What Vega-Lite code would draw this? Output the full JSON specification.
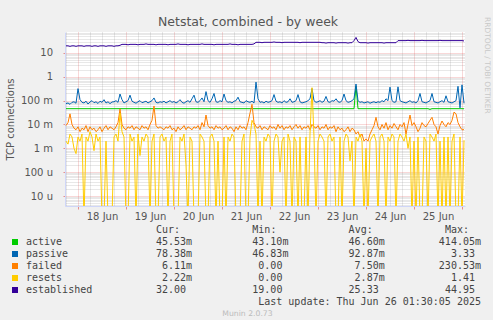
{
  "$schema": "https://vega.github.io/schema/vega-lite/v6.json",
  "background": "#F0F0F0",
  "padding": {"left": 5, "top": 15, "right": 2, "bottom": 2},
  "title": {"text": "Netstat, combined - by week", "font": "DejaVu Sans", "fontSize": 12.5, "fontWeight": "normal", "color": "#555555", "anchor": "middle", "offset": -11},
  "config": {"view": {"stroke": null}},
  "bounds": "flush",
  "spacing": 18,
  "vconcat": [
    {
      "width": 400,
      "height": 174,
      "view": {"fill": "#FFFFFF", "stroke": null},
      "title": {"text": "RRDTOOL / TOBI OETIKER", "orient": "right", "anchor": "start", "font": "DejaVu Sans", "fontSize": 7.5, "fontWeight": "normal", "color": "#C8C8C8", "offset": -3, "dx": -15},
      "data": {"values": [
        {"t":"2025-06-17T18:00","active":0.046,"passive":0.075,"failed":0.009,"resets":0.002,"established":20},
        {"t":"2025-06-17T19:00","active":0.046,"passive":0.08,"failed":0.012,"resets":0.0015,"established":20},
        {"t":"2025-06-17T20:00","active":0.046,"passive":0.07,"failed":0.028,"resets":0.004,"established":19},
        {"t":"2025-06-17T21:00","active":0.046,"passive":0.085,"failed":0.01,"resets":0.003,"established":20},
        {"t":"2025-06-17T22:00","active":0.046,"passive":0.09,"failed":0.007,"resets":0.001,"established":20},
        {"t":"2025-06-17T23:00","active":0.046,"passive":0.078,"failed":0.006,"resets":0.0006,"established":19},
        {"t":"2025-06-18T00:00","active":0.046,"passive":0.32,"failed":0.008,"resets":0.003,"established":20},
        {"t":"2025-06-18T01:00","active":0.046,"passive":0.11,"failed":0.005,"resets":0.002,"established":20},
        {"t":"2025-06-18T02:00","active":0.046,"passive":0.085,"failed":0.007,"resets":0.004,"established":20},
        {"t":"2025-06-18T03:00","active":0.046,"passive":0.08,"failed":0.006,"resets":1e-6,"established":19},
        {"t":"2025-06-18T04:00","active":0.046,"passive":0.095,"failed":0.009,"resets":0.003,"established":20},
        {"t":"2025-06-18T05:00","active":0.046,"passive":0.072,"failed":0.005,"resets":0.002,"established":20},
        {"t":"2025-06-18T06:00","active":0.046,"passive":0.088,"failed":0.008,"resets":0.005,"established":20},
        {"t":"2025-06-18T07:00","active":0.046,"passive":0.1,"failed":0.006,"resets":0.003,"established":19},
        {"t":"2025-06-18T08:00","active":0.046,"passive":0.082,"failed":0.007,"resets":0.0008,"established":20},
        {"t":"2025-06-18T09:00","active":0.046,"passive":0.09,"failed":0.005,"resets":0.004,"established":20},
        {"t":"2025-06-18T10:00","active":0.046,"passive":0.076,"failed":0.006,"resets":0.002,"established":19},
        {"t":"2025-06-18T11:00","active":0.046,"passive":0.095,"failed":0.008,"resets":0.003,"established":20},
        {"t":"2025-06-18T12:00","active":0.046,"passive":0.085,"failed":0.005,"resets":1e-6,"established":20},
        {"t":"2025-06-18T13:00","active":0.046,"passive":0.11,"failed":0.007,"resets":1e-6,"established":20},
        {"t":"2025-06-18T14:00","active":0.046,"passive":0.08,"failed":0.009,"resets":0.002,"established":19},
        {"t":"2025-06-18T15:00","active":0.046,"passive":0.09,"failed":0.006,"resets":1e-6,"established":20},
        {"t":"2025-06-18T16:00","active":0.046,"passive":0.075,"failed":0.008,"resets":1e-6,"established":20},
        {"t":"2025-06-18T17:00","active":0.046,"passive":0.088,"failed":0.007,"resets":1e-6,"established":20},
        {"t":"2025-06-18T18:00","active":0.046,"passive":0.09,"failed":0.006,"resets":0.003,"established":19},
        {"t":"2025-06-18T19:00","active":0.046,"passive":0.1,"failed":0.008,"resets":0.004,"established":20},
        {"t":"2025-06-18T20:00","active":0.046,"passive":0.085,"failed":0.012,"resets":0.002,"established":20},
        {"t":"2025-06-18T21:00","active":0.046,"passive":0.19,"failed":0.045,"resets":0.03,"established":21},
        {"t":"2025-06-18T22:00","active":0.046,"passive":0.11,"failed":0.01,"resets":0.005,"established":23},
        {"t":"2025-06-18T23:00","active":0.046,"passive":0.08,"failed":0.007,"resets":0.003,"established":23},
        {"t":"2025-06-19T00:00","active":0.046,"passive":0.09,"failed":0.006,"resets":1e-6,"established":23},
        {"t":"2025-06-19T01:00","active":0.046,"passive":0.1,"failed":0.008,"resets":1e-6,"established":22},
        {"t":"2025-06-19T02:00","active":0.046,"passive":0.17,"failed":0.007,"resets":0.004,"established":23},
        {"t":"2025-06-19T03:00","active":0.046,"passive":0.095,"failed":0.009,"resets":0.002,"established":23},
        {"t":"2025-06-19T04:00","active":0.046,"passive":0.085,"failed":0.006,"resets":0.003,"established":23},
        {"t":"2025-06-19T05:00","active":0.046,"passive":0.078,"failed":0.008,"resets":1e-6,"established":23},
        {"t":"2025-06-19T06:00","active":0.046,"passive":0.09,"failed":0.007,"resets":0.004,"established":22},
        {"t":"2025-06-19T07:00","active":0.046,"passive":0.1,"failed":0.006,"resets":0.0005,"established":23},
        {"t":"2025-06-19T08:00","active":0.046,"passive":0.082,"failed":0.009,"resets":0.003,"established":23},
        {"t":"2025-06-19T09:00","active":0.046,"passive":0.088,"failed":0.007,"resets":0.002,"established":23},
        {"t":"2025-06-19T10:00","active":0.046,"passive":0.095,"failed":0.008,"resets":0.004,"established":24},
        {"t":"2025-06-19T11:00","active":0.046,"passive":0.08,"failed":0.006,"resets":0.003,"established":23},
        {"t":"2025-06-19T12:00","active":0.046,"passive":0.09,"failed":0.01,"resets":1e-6,"established":23},
        {"t":"2025-06-19T13:00","active":0.046,"passive":0.1,"failed":0.015,"resets":0.002,"established":23},
        {"t":"2025-06-19T14:00","active":0.046,"passive":0.13,"failed":0.06,"resets":0.004,"established":23},
        {"t":"2025-06-19T15:00","active":0.046,"passive":0.085,"failed":0.009,"resets":1e-6,"established":22},
        {"t":"2025-06-19T16:00","active":0.046,"passive":0.08,"failed":0.007,"resets":1e-6,"established":23},
        {"t":"2025-06-19T17:00","active":0.046,"passive":0.09,"failed":0.008,"resets":0.003,"established":23},
        {"t":"2025-06-19T18:00","active":0.046,"passive":0.085,"failed":0.007,"resets":0.004,"established":23},
        {"t":"2025-06-19T19:00","active":0.046,"passive":0.095,"failed":0.006,"resets":0.002,"established":23},
        {"t":"2025-06-19T20:00","active":0.046,"passive":0.08,"failed":0.008,"resets":0.003,"established":23},
        {"t":"2025-06-19T21:00","active":0.046,"passive":0.09,"failed":0.007,"resets":1e-6,"established":22},
        {"t":"2025-06-19T22:00","active":0.046,"passive":0.1,"failed":0.009,"resets":0.002,"established":23},
        {"t":"2025-06-19T23:00","active":0.046,"passive":0.085,"failed":0.006,"resets":0.004,"established":23},
        {"t":"2025-06-20T00:00","active":0.046,"passive":0.092,"failed":0.007,"resets":1e-6,"established":23},
        {"t":"2025-06-20T01:00","active":0.046,"passive":0.08,"failed":0.005,"resets":1e-6,"established":23},
        {"t":"2025-06-20T02:00","active":0.046,"passive":0.09,"failed":0.008,"resets":1e-6,"established":24},
        {"t":"2025-06-20T03:00","active":0.046,"passive":0.11,"failed":0.006,"resets":0.003,"established":23},
        {"t":"2025-06-20T04:00","active":0.046,"passive":0.085,"failed":0.007,"resets":0.002,"established":23},
        {"t":"2025-06-20T05:00","active":0.046,"passive":0.078,"failed":0.009,"resets":0.004,"established":23},
        {"t":"2025-06-20T06:00","active":0.046,"passive":0.09,"failed":0.006,"resets":0.0002,"established":23},
        {"t":"2025-06-20T07:00","active":0.046,"passive":0.1,"failed":0.008,"resets":1e-6,"established":22},
        {"t":"2025-06-20T08:00","active":0.046,"passive":0.085,"failed":0.007,"resets":0.003,"established":23},
        {"t":"2025-06-20T09:00","active":0.046,"passive":0.12,"failed":0.006,"resets":0.002,"established":23},
        {"t":"2025-06-20T10:00","active":0.046,"passive":0.17,"failed":0.008,"resets":1e-6,"established":23},
        {"t":"2025-06-20T11:00","active":0.046,"passive":0.09,"failed":0.007,"resets":1e-6,"established":23},
        {"t":"2025-06-20T12:00","active":0.046,"passive":0.085,"failed":0.009,"resets":1e-6,"established":23},
        {"t":"2025-06-20T13:00","active":0.046,"passive":0.1,"failed":0.006,"resets":0.004,"established":23},
        {"t":"2025-06-20T14:00","active":0.046,"passive":0.13,"failed":0.012,"resets":0.003,"established":24},
        {"t":"2025-06-20T15:00","active":0.046,"passive":0.09,"failed":0.008,"resets":0.002,"established":23},
        {"t":"2025-06-20T16:00","active":0.046,"passive":0.24,"failed":0.025,"resets":1e-6,"established":23},
        {"t":"2025-06-20T17:00","active":0.046,"passive":0.1,"failed":0.009,"resets":1e-6,"established":23},
        {"t":"2025-06-20T18:00","active":0.046,"passive":0.085,"failed":0.007,"resets":0.003,"established":23},
        {"t":"2025-06-20T19:00","active":0.046,"passive":0.12,"failed":0.008,"resets":0.004,"established":23},
        {"t":"2025-06-20T20:00","active":0.046,"passive":0.2,"failed":0.006,"resets":0.002,"established":22},
        {"t":"2025-06-20T21:00","active":0.046,"passive":0.09,"failed":0.009,"resets":1e-6,"established":23},
        {"t":"2025-06-20T22:00","active":0.046,"passive":0.085,"failed":0.007,"resets":0.002,"established":23},
        {"t":"2025-06-20T23:00","active":0.046,"passive":0.1,"failed":0.008,"resets":1e-6,"established":23},
        {"t":"2025-06-21T00:00","active":0.046,"passive":0.09,"failed":0.006,"resets":1e-6,"established":23},
        {"t":"2025-06-21T01:00","active":0.046,"passive":0.19,"failed":0.007,"resets":0.003,"established":23},
        {"t":"2025-06-21T02:00","active":0.046,"passive":0.1,"failed":0.009,"resets":1e-6,"established":23},
        {"t":"2025-06-21T03:00","active":0.046,"passive":0.085,"failed":0.006,"resets":0.003,"established":23},
        {"t":"2025-06-21T04:00","active":0.046,"passive":0.09,"failed":0.008,"resets":0.002,"established":24},
        {"t":"2025-06-21T05:00","active":0.046,"passive":0.08,"failed":0.007,"resets":0.004,"established":23},
        {"t":"2025-06-21T06:00","active":0.046,"passive":0.095,"failed":0.005,"resets":0.003,"established":23},
        {"t":"2025-06-21T07:00","active":0.046,"passive":0.1,"failed":0.008,"resets":1e-6,"established":23},
        {"t":"2025-06-21T08:00","active":0.046,"passive":0.14,"failed":0.006,"resets":1e-6,"established":22},
        {"t":"2025-06-21T09:00","active":0.046,"passive":0.09,"failed":0.009,"resets":1e-6,"established":23},
        {"t":"2025-06-21T10:00","active":0.046,"passive":0.085,"failed":0.007,"resets":0.002,"established":23},
        {"t":"2025-06-21T11:00","active":0.046,"passive":0.08,"failed":0.008,"resets":0.004,"established":23},
        {"t":"2025-06-21T12:00","active":0.046,"passive":0.1,"failed":0.006,"resets":1e-6,"established":23},
        {"t":"2025-06-21T13:00","active":0.046,"passive":0.09,"failed":0.012,"resets":1e-6,"established":23},
        {"t":"2025-06-21T14:00","active":0.046,"passive":0.085,"failed":0.03,"resets":0.003,"established":23},
        {"t":"2025-06-21T15:00","active":0.046,"passive":0.095,"failed":0.07,"resets":0.015,"established":23},
        {"t":"2025-06-21T16:00","active":0.046,"passive":0.08,"failed":0.012,"resets":0.01,"established":24},
        {"t":"2025-06-21T17:00","active":0.046,"passive":0.6,"failed":0.008,"resets":0.004,"established":28},
        {"t":"2025-06-21T18:00","active":0.046,"passive":0.12,"failed":0.007,"resets":1e-6,"established":28},
        {"t":"2025-06-21T19:00","active":0.046,"passive":0.085,"failed":0.009,"resets":0.002,"established":28},
        {"t":"2025-06-21T20:00","active":0.046,"passive":0.09,"failed":0.006,"resets":1e-6,"established":27},
        {"t":"2025-06-21T21:00","active":0.046,"passive":0.08,"failed":0.008,"resets":0.003,"established":28},
        {"t":"2025-06-21T22:00","active":0.046,"passive":0.095,"failed":0.007,"resets":0.002,"established":28},
        {"t":"2025-06-21T23:00","active":0.046,"passive":0.085,"failed":0.006,"resets":0.004,"established":28},
        {"t":"2025-06-22T00:00","active":0.046,"passive":0.09,"failed":0.009,"resets":0.003,"established":28},
        {"t":"2025-06-22T01:00","active":0.046,"passive":0.1,"failed":0.007,"resets":1e-6,"established":28},
        {"t":"2025-06-22T02:00","active":0.046,"passive":0.18,"failed":0.008,"resets":0.002,"established":29},
        {"t":"2025-06-22T03:00","active":0.046,"passive":0.095,"failed":0.006,"resets":0.004,"established":28},
        {"t":"2025-06-22T04:00","active":0.046,"passive":0.085,"failed":0.01,"resets":0.003,"established":28},
        {"t":"2025-06-22T05:00","active":0.046,"passive":0.09,"failed":0.007,"resets":0.0001,"established":28},
        {"t":"2025-06-22T06:00","active":0.046,"passive":0.08,"failed":0.009,"resets":0.002,"established":27},
        {"t":"2025-06-22T07:00","active":0.046,"passive":0.1,"failed":0.006,"resets":0.003,"established":28},
        {"t":"2025-06-22T08:00","active":0.046,"passive":0.085,"failed":0.008,"resets":1e-6,"established":28},
        {"t":"2025-06-22T09:00","active":0.046,"passive":0.09,"failed":0.007,"resets":0.004,"established":28},
        {"t":"2025-06-22T10:00","active":0.046,"passive":0.12,"failed":0.009,"resets":0.002,"established":28},
        {"t":"2025-06-22T11:00","active":0.046,"passive":0.085,"failed":0.006,"resets":1e-6,"established":28},
        {"t":"2025-06-22T12:00","active":0.046,"passive":0.09,"failed":0.008,"resets":0.003,"established":28},
        {"t":"2025-06-22T13:00","active":0.046,"passive":0.1,"failed":0.01,"resets":0.002,"established":28},
        {"t":"2025-06-22T14:00","active":0.046,"passive":0.18,"failed":0.007,"resets":1e-6,"established":28},
        {"t":"2025-06-22T15:00","active":0.046,"passive":0.09,"failed":0.009,"resets":0.003,"established":27},
        {"t":"2025-06-22T16:00","active":0.046,"passive":0.08,"failed":0.006,"resets":1e-6,"established":28},
        {"t":"2025-06-22T17:00","active":0.046,"passive":0.085,"failed":0.008,"resets":1e-6,"established":28},
        {"t":"2025-06-22T18:00","active":0.046,"passive":0.09,"failed":0.007,"resets":0.003,"established":28},
        {"t":"2025-06-22T19:00","active":0.046,"passive":0.1,"failed":0.009,"resets":1e-6,"established":28},
        {"t":"2025-06-22T20:00","active":0.046,"passive":0.12,"failed":0.006,"resets":0.004,"established":28},
        {"t":"2025-06-22T21:00","active":0.046,"passive":0.32,"failed":0.01,"resets":0.35,"established":28},
        {"t":"2025-06-22T22:00","active":0.046,"passive":0.1,"failed":0.008,"resets":0.003,"established":28},
        {"t":"2025-06-22T23:00","active":0.046,"passive":0.085,"failed":0.007,"resets":1e-6,"established":28},
        {"t":"2025-06-23T00:00","active":0.046,"passive":0.09,"failed":0.009,"resets":0.002,"established":28},
        {"t":"2025-06-23T01:00","active":0.046,"passive":0.1,"failed":0.006,"resets":0.004,"established":28},
        {"t":"2025-06-23T02:00","active":0.046,"passive":0.085,"failed":0.008,"resets":0.003,"established":27},
        {"t":"2025-06-23T03:00","active":0.046,"passive":0.095,"failed":0.007,"resets":0.002,"established":27},
        {"t":"2025-06-23T04:00","active":0.046,"passive":0.15,"failed":0.01,"resets":1e-6,"established":26},
        {"t":"2025-06-23T05:00","active":0.046,"passive":0.09,"failed":0.006,"resets":0.003,"established":27},
        {"t":"2025-06-23T06:00","active":0.046,"passive":0.085,"failed":0.008,"resets":0.004,"established":27},
        {"t":"2025-06-23T07:00","active":0.046,"passive":0.1,"failed":0.007,"resets":0.002,"established":27},
        {"t":"2025-06-23T08:00","active":0.046,"passive":0.095,"failed":0.009,"resets":0.003,"established":27},
        {"t":"2025-06-23T09:00","active":0.046,"passive":0.12,"failed":0.005,"resets":1e-6,"established":26},
        {"t":"2025-06-23T10:00","active":0.046,"passive":0.09,"failed":0.008,"resets":1e-6,"established":27},
        {"t":"2025-06-23T11:00","active":0.046,"passive":0.085,"failed":0.006,"resets":0.003,"established":27},
        {"t":"2025-06-23T12:00","active":0.046,"passive":0.1,"failed":0.007,"resets":1e-6,"established":27},
        {"t":"2025-06-23T13:00","active":0.046,"passive":0.19,"failed":0.005,"resets":0.002,"established":27},
        {"t":"2025-06-23T14:00","active":0.046,"passive":0.1,"failed":0.006,"resets":0.004,"established":27},
        {"t":"2025-06-23T15:00","active":0.046,"passive":0.085,"failed":0.008,"resets":0.003,"established":26},
        {"t":"2025-06-23T16:00","active":0.046,"passive":0.09,"failed":0.005,"resets":0.0003,"established":27},
        {"t":"2025-06-23T17:00","active":0.046,"passive":0.1,"failed":0.007,"resets":0.002,"established":27},
        {"t":"2025-06-23T18:00","active":0.046,"passive":0.12,"failed":0.006,"resets":1e-6,"established":33},
        {"t":"2025-06-23T19:00","active":0.41,"passive":0.5,"failed":0.004,"resets":0.003,"established":45},
        {"t":"2025-06-23T20:00","active":0.046,"passive":0.1,"failed":0.005,"resets":0.002,"established":30},
        {"t":"2025-06-23T21:00","active":0.046,"passive":0.085,"failed":0.003,"resets":0.004,"established":27},
        {"t":"2025-06-23T22:00","active":0.046,"passive":0.09,"failed":0.004,"resets":0.002,"established":27},
        {"t":"2025-06-23T23:00","active":0.046,"passive":0.08,"failed":0.002,"resets":1e-6,"established":27},
        {"t":"2025-06-24T00:00","active":0.046,"passive":0.085,"failed":0.0025,"resets":0.001,"established":27},
        {"t":"2025-06-24T01:00","active":0.046,"passive":0.09,"failed":0.002,"resets":1e-6,"established":26},
        {"t":"2025-06-24T02:00","active":0.046,"passive":0.078,"failed":0.004,"resets":0.002,"established":27},
        {"t":"2025-06-24T03:00","active":0.046,"passive":0.085,"failed":0.006,"resets":0.003,"established":27},
        {"t":"2025-06-24T04:00","active":0.046,"passive":0.09,"failed":0.009,"resets":0.004,"established":27},
        {"t":"2025-06-24T05:00","active":0.046,"passive":0.082,"failed":0.02,"resets":0.002,"established":27},
        {"t":"2025-06-24T06:00","active":0.046,"passive":0.09,"failed":0.008,"resets":1e-6,"established":27},
        {"t":"2025-06-24T07:00","active":0.046,"passive":0.085,"failed":0.006,"resets":0.003,"established":27},
        {"t":"2025-06-24T08:00","active":0.046,"passive":0.1,"failed":0.01,"resets":0.004,"established":27},
        {"t":"2025-06-24T09:00","active":0.046,"passive":0.09,"failed":0.007,"resets":0.002,"established":26},
        {"t":"2025-06-24T10:00","active":0.046,"passive":0.12,"failed":0.012,"resets":1e-6,"established":27},
        {"t":"2025-06-24T11:00","active":0.046,"passive":0.1,"failed":0.006,"resets":0.003,"established":27},
        {"t":"2025-06-24T12:00","active":0.046,"passive":0.37,"failed":0.009,"resets":0.002,"established":27},
        {"t":"2025-06-24T13:00","active":0.046,"passive":0.1,"failed":0.007,"resets":0.004,"established":27},
        {"t":"2025-06-24T14:00","active":0.046,"passive":0.085,"failed":0.011,"resets":0.003,"established":27},
        {"t":"2025-06-24T15:00","active":0.046,"passive":0.09,"failed":0.008,"resets":1e-6,"established":27},
        {"t":"2025-06-24T16:00","active":0.046,"passive":0.38,"failed":0.006,"resets":0.002,"established":33},
        {"t":"2025-06-24T17:00","active":0.046,"passive":0.1,"failed":0.01,"resets":0.004,"established":33},
        {"t":"2025-06-24T18:00","active":0.046,"passive":0.09,"failed":0.008,"resets":0.003,"established":33},
        {"t":"2025-06-24T19:00","active":0.046,"passive":0.085,"failed":0.012,"resets":0.002,"established":33},
        {"t":"2025-06-24T20:00","active":0.046,"passive":0.08,"failed":0.004,"resets":0.004,"established":33},
        {"t":"2025-06-24T21:00","active":0.046,"passive":0.09,"failed":0.01,"resets":0.001,"established":34},
        {"t":"2025-06-24T22:00","active":0.046,"passive":0.1,"failed":0.025,"resets":0.003,"established":33},
        {"t":"2025-06-24T23:00","active":0.046,"passive":0.085,"failed":0.009,"resets":1e-6,"established":33},
        {"t":"2025-06-25T00:00","active":0.046,"passive":0.09,"failed":0.012,"resets":0.002,"established":33},
        {"t":"2025-06-25T01:00","active":0.046,"passive":0.08,"failed":0.008,"resets":1e-6,"established":33},
        {"t":"2025-06-25T02:00","active":0.046,"passive":0.1,"failed":0.005,"resets":0.003,"established":33},
        {"t":"2025-06-25T03:00","active":0.046,"passive":0.2,"failed":0.007,"resets":1e-6,"established":33},
        {"t":"2025-06-25T04:00","active":0.046,"passive":0.09,"failed":0.012,"resets":1e-6,"established":34},
        {"t":"2025-06-25T05:00","active":0.046,"passive":0.085,"failed":0.009,"resets":0.003,"established":33},
        {"t":"2025-06-25T06:00","active":0.046,"passive":0.08,"failed":0.008,"resets":0.002,"established":33},
        {"t":"2025-06-25T07:00","active":0.046,"passive":0.09,"failed":0.011,"resets":1e-6,"established":33},
        {"t":"2025-06-25T08:00","active":0.043,"passive":0.1,"failed":0.015,"resets":0.004,"established":33},
        {"t":"2025-06-25T09:00","active":0.046,"passive":0.2,"failed":0.02,"resets":0.003,"established":33},
        {"t":"2025-06-25T10:00","active":0.046,"passive":0.09,"failed":0.01,"resets":0.002,"established":33},
        {"t":"2025-06-25T11:00","active":0.046,"passive":0.085,"failed":0.008,"resets":0.004,"established":33},
        {"t":"2025-06-25T12:00","active":0.046,"passive":0.08,"failed":0.004,"resets":1e-6,"established":33},
        {"t":"2025-06-25T13:00","active":0.046,"passive":0.09,"failed":0.009,"resets":0.002,"established":34},
        {"t":"2025-06-25T14:00","active":0.046,"passive":0.1,"failed":0.014,"resets":1e-6,"established":33},
        {"t":"2025-06-25T15:00","active":0.046,"passive":0.085,"failed":0.01,"resets":0.003,"established":33},
        {"t":"2025-06-25T16:00","active":0.046,"passive":0.16,"failed":0.008,"resets":1e-6,"established":33},
        {"t":"2025-06-25T17:00","active":0.046,"passive":0.09,"failed":0.012,"resets":0.003,"established":33},
        {"t":"2025-06-25T18:00","active":0.046,"passive":0.085,"failed":0.01,"resets":1e-6,"established":33},
        {"t":"2025-06-25T19:00","active":0.046,"passive":0.08,"failed":0.015,"resets":0.002,"established":33},
        {"t":"2025-06-25T20:00","active":0.046,"passive":0.09,"failed":0.033,"resets":0.004,"established":33},
        {"t":"2025-06-25T21:00","active":0.046,"passive":0.1,"failed":0.028,"resets":1e-6,"established":33},
        {"t":"2025-06-25T22:00","active":0.046,"passive":0.4,"failed":0.012,"resets":1e-6,"established":33},
        {"t":"2025-06-25T23:00","active":0.046,"passive":0.05,"failed":0.008,"resets":0.003,"established":33},
        {"t":"2025-06-26T00:00","active":0.046,"passive":0.46,"failed":0.006,"resets":1e-6,"established":33},
        {"t":"2025-06-26T01:00","active":0.0455,"passive":0.078,"failed":0.0061,"resets":0.0022,"established":32}
      ]},
      "transform": [{"fold": ["active", "passive", "failed", "resets", "established"], "as": ["series", "value"]}],
      "layer": [
        {
          "mark": {"type": "point", "opacity": 0, "clip": true},
          "encoding": {
            "x": {
              "field": "t", "type": "temporal",
              "scale": {"domain": [{"year": 2025, "month": 6, "date": 17, "hours": 17, "minutes": 30}, {"year": 2025, "month": 6, "date": 26, "hours": 1, "minutes": 30}]},
              "axis": {
                "orient": "bottom", "title": null, "labels": false, "ticks": false, "domain": false,
                "grid": true, "gridColor": "#8F8F8F", "gridOpacity": 0.4, "gridDash": [1, 1],
                "values": [
                  {"year": 2025, "month": 6, "date": 17, "hours": 18},
                  {"year": 2025, "month": 6, "date": 18, "hours": 6}, {"year": 2025, "month": 6, "date": 18, "hours": 12}, {"year": 2025, "month": 6, "date": 18, "hours": 18},
                  {"year": 2025, "month": 6, "date": 19, "hours": 6}, {"year": 2025, "month": 6, "date": 19, "hours": 12}, {"year": 2025, "month": 6, "date": 19, "hours": 18},
                  {"year": 2025, "month": 6, "date": 20, "hours": 6}, {"year": 2025, "month": 6, "date": 20, "hours": 12}, {"year": 2025, "month": 6, "date": 20, "hours": 18},
                  {"year": 2025, "month": 6, "date": 21, "hours": 6}, {"year": 2025, "month": 6, "date": 21, "hours": 12}, {"year": 2025, "month": 6, "date": 21, "hours": 18},
                  {"year": 2025, "month": 6, "date": 22, "hours": 6}, {"year": 2025, "month": 6, "date": 22, "hours": 12}, {"year": 2025, "month": 6, "date": 22, "hours": 18},
                  {"year": 2025, "month": 6, "date": 23, "hours": 6}, {"year": 2025, "month": 6, "date": 23, "hours": 12}, {"year": 2025, "month": 6, "date": 23, "hours": 18},
                  {"year": 2025, "month": 6, "date": 24, "hours": 6}, {"year": 2025, "month": 6, "date": 24, "hours": 12}, {"year": 2025, "month": 6, "date": 24, "hours": 18},
                  {"year": 2025, "month": 6, "date": 25, "hours": 6}, {"year": 2025, "month": 6, "date": 25, "hours": 12}, {"year": 2025, "month": 6, "date": 25, "hours": 18}
                ]
              }
            },
            "y": {
              "field": "value", "type": "quantitative",
              "scale": {"type": "log", "domain": [0.00000381, 75.9], "nice": false},
              "axis": {
                "orient": "left", "title": null, "labels": false, "ticks": false, "domain": false,
                "grid": true, "gridColor": "#8F8F8F", "gridOpacity": 0.4, "gridDash": [1, 1],
                "values": [0.000004, 0.000005, 0.000006, 0.000007, 0.000008, 0.000009,
                  0.00002, 0.00003, 0.00004, 0.00005, 0.00006, 0.00007, 0.00008, 0.00009,
                  0.0002, 0.0003, 0.0004, 0.0005, 0.0006, 0.0007, 0.0008, 0.0009,
                  0.002, 0.003, 0.004, 0.005, 0.006, 0.007, 0.008, 0.009,
                  0.02, 0.03, 0.04, 0.05, 0.06, 0.07, 0.08, 0.09,
                  0.2, 0.3, 0.4, 0.5, 0.6, 0.7, 0.8, 0.9,
                  2, 3, 4, 5, 6, 7, 8, 9, 20, 30, 40, 50, 60, 70]
              }
            }
          }
        },
        {
          "mark": {"type": "line", "strokeWidth": 1, "clip": true},
          "encoding": {
            "x": {
              "field": "t", "type": "temporal",
              "scale": {"domain": [{"year": 2025, "month": 6, "date": 17, "hours": 17, "minutes": 30}, {"year": 2025, "month": 6, "date": 26, "hours": 1, "minutes": 30}]},
              "axis": {
                "orient": "bottom", "title": null,
                "values": [
                  {"year": 2025, "month": 6, "date": 18}, {"year": 2025, "month": 6, "date": 19}, {"year": 2025, "month": 6, "date": 20},
                  {"year": 2025, "month": 6, "date": 21}, {"year": 2025, "month": 6, "date": 22}, {"year": 2025, "month": 6, "date": 23},
                  {"year": 2025, "month": 6, "date": 24}, {"year": 2025, "month": 6, "date": 25}, {"year": 2025, "month": 6, "date": 26}
                ],
                "labelExpr": "date(datum.value) == 26 ? '' : timeFormat(datum.value, '%d %b')",
                "labelOffset": 24, "labelFont": "DejaVu Sans", "labelFontSize": 10, "labelColor": "#555555", "labelPadding": 2,
                "labelFlush": false, "labelOverlap": false,
                "ticks": true, "tickSize": 3, "tickColor": "#DE4F4F", "tickOpacity": 0.6,
                "domain": true, "domainColor": "#CFD6F8",
                "grid": true, "gridColor": "#DE4F4F", "gridOpacity": 0.45, "gridDash": [1, 1]
              }
            },
            "y": {
              "field": "value", "type": "quantitative",
              "scale": {"type": "log", "domain": [0.00000381, 75.9], "nice": false},
              "axis": {
                "orient": "left", "title": "TCP connections",
                "titleFont": "DejaVu Sans", "titleFontSize": 10, "titleFontWeight": "normal", "titleColor": "#555555", "titlePadding": 5,
                "values": [0.00001, 0.0001, 0.001, 0.01, 0.1, 1, 10],
                "labelExpr": "datum.value >= 1 ? format(datum.value, '.0f') : (datum.value >= 0.001 ? format(datum.value * 1000, '.0f') + ' m' : format(datum.value * 1000000, '.0f') + ' u')",
                "labelFont": "DejaVu Sans", "labelFontSize": 10, "labelColor": "#555555", "labelPadding": 10.5,
                "ticks": true, "tickSize": 2, "tickColor": "#DE4F4F", "tickOpacity": 0.6,
                "domain": true, "domainColor": "#CFD6F8",
                "grid": true, "gridColor": "#DE4F4F", "gridOpacity": 0.45, "gridDash": [1, 1]
              }
            },
            "color": {
              "field": "series", "type": "nominal",
              "scale": {"domain": ["active", "passive", "failed", "resets", "established"], "range": ["#00CC00", "#0066B3", "#FF8000", "#FFCC00", "#330099"]},
              "legend": {
                "orient": "none", "legendX": -55, "legendY": 205, "title": null, "direction": "vertical",
                "symbolType": "square", "symbolSize": 36, "symbolStrokeWidth": 0,
                "labelFont": "DejaVu Sans Mono", "labelFontSize": 10, "labelColor": "#444444", "labelOffset": 6,
                "rowPadding": 2, "padding": 0,
                "encode": {"symbols": {"update": {"fill": {"scale": "color", "field": "value"}, "fillOpacity": {"value": 1}, "strokeWidth": {"value": 0}}}}
              }
            }
          }
        }
      ],
      "resolve": {"axis": {"x": "independent", "y": "independent"}}
    },
    {
      "width": 416,
      "height": 84,
      "title": {"text": "Munin 2.0.73", "orient": "bottom", "anchor": "middle", "frame": "group", "font": "DejaVu Sans", "fontSize": 7.7, "fontWeight": "normal", "color": "#BBBBBB", "offset": 2, "dx": -25.5},
      "data": {"values": [
        {"row": "hdr", "col": "Cur", "text": "Cur:"},
        {"row": "hdr", "col": "Min", "text": "Min:"},
        {"row": "hdr", "col": "Avg", "text": "Avg:"},
        {"row": "hdr", "col": "Max", "text": "Max:"},
        {"row": "active", "col": "Cur", "text": "45.53m"},
        {"row": "active", "col": "Min", "text": "43.10m"},
        {"row": "active", "col": "Avg", "text": "46.60m"},
        {"row": "active", "col": "Max", "text": "414.05m"},
        {"row": "passive", "col": "Cur", "text": "78.38m"},
        {"row": "passive", "col": "Min", "text": "46.83m"},
        {"row": "passive", "col": "Avg", "text": "92.87m"},
        {"row": "passive", "col": "Max", "text": "3.33"},
        {"row": "failed", "col": "Cur", "text": "6.11m"},
        {"row": "failed", "col": "Min", "text": "0.00"},
        {"row": "failed", "col": "Avg", "text": "7.50m"},
        {"row": "failed", "col": "Max", "text": "230.53m"},
        {"row": "resets", "col": "Cur", "text": "2.22m"},
        {"row": "resets", "col": "Min", "text": "0.00"},
        {"row": "resets", "col": "Avg", "text": "2.87m"},
        {"row": "resets", "col": "Max", "text": "1.41"},
        {"row": "established", "col": "Cur", "text": "32.00"},
        {"row": "established", "col": "Min", "text": "19.00"},
        {"row": "established", "col": "Avg", "text": "25.33"},
        {"row": "established", "col": "Max", "text": "44.95"},
        {"row": "update", "col": "Max", "text": "Last update: Thu Jun 26 01:30:05 2025"}
      ]},
      "encoding": {
        "x": {"field": "col", "type": "nominal", "scale": {"type": "point", "domain": ["Cur", "Min", "Avg", "Max"], "padding": 0.66, "align": 1}, "axis": null},
        "y": {"field": "row", "type": "nominal", "scale": {"type": "point", "domain": ["hdr", "active", "passive", "failed", "resets", "established", "update"], "padding": 0.5}, "axis": null},
        "text": {"field": "text"}
      },
      "layer": [
        {
          "transform": [{"filter": "datum.row == 'update' || (datum.row != 'hdr' && test(/m$/, datum.text))"}],
          "mark": {"type": "text", "align": "right", "baseline": "middle", "font": "DejaVu Sans Mono", "fontSize": 10, "color": "#444444"}
        },
        {
          "transform": [{"filter": "datum.row != 'update' && datum.row != 'hdr' && !test(/m$/, datum.text)"}],
          "mark": {"type": "text", "align": "right", "baseline": "middle", "font": "DejaVu Sans Mono", "fontSize": 10, "color": "#444444", "dx": -6}
        },
        {
          "transform": [{"filter": "datum.row == 'hdr'"}],
          "mark": {"type": "text", "align": "right", "baseline": "middle", "font": "DejaVu Sans Mono", "fontSize": 10, "color": "#444444", "dx": -12}
        }
      ]
    }
  ]
}
